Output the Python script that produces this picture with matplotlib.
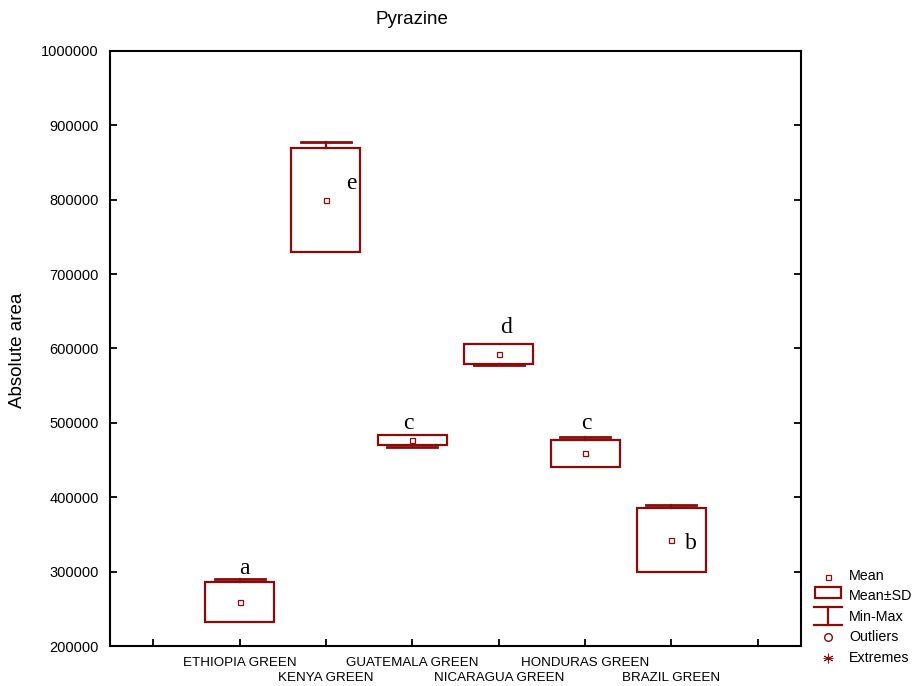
import matplotlib
matplotlib.use("Agg")
import matplotlib.pyplot as plt
from matplotlib.patches import Rectangle

# ---- data ----
groups = ["ETHIOPIA GREEN", "KENYA GREEN", "GUATEMALA GREEN",
          "NICARAGUA GREEN", "HONDURAS GREEN", "BRAZIL GREEN"]
means = [259000, 800000, 477500, 592800, 459000, 342500]
sds = [26900, 69800, 6800, 13400, 18300, 43600]
maxs = [290000, 877700, 482000, 600000, 481000, 389200]
mins = [240000, 740000, 467600, 577500, 445000, 305000]
letters = ["a", "e", "c", "d", "c", "b"]
letter_x = [1.05, 2.29, 2.95, 4.09, 5.02, 6.22]
letter_y = [304700, 821500, 499300, 628200, 499300, 338300]
yticks = [200000, 300000, 400000, 500000, 600000, 700000, 800000, 900000, 1000000]

RED = "#8b0a0a"
W, H = 916, 686

plt.rcParams["font.family"] = ["Liberation Sans", "DejaVu Sans"]

fig = plt.figure(figsize=(W / 100, H / 100), dpi=100)
ax = fig.add_axes([110 / W, 40 / H, 691 / W, 595 / H])

bw = 0.8
cw = 0.58
for i, (m, s, mx, mn) in enumerate(zip(means, sds, maxs, mins)):
    x = i + 1
    ax.add_patch(Rectangle((x - bw / 2, m - s), bw, 2 * s, fill=False,
                           edgecolor=RED, lw=1.6, zorder=3))
    if mx > m + s:
        ax.plot([x, x], [m + s, mx], color=RED, lw=1.6, zorder=3)
        ax.plot([x - cw / 2, x + cw / 2], [mx, mx], color=RED, lw=2.0, zorder=3)
    if mn < m - s:
        ax.plot([x, x], [m - s, mn], color=RED, lw=1.6, zorder=3)
        ax.plot([x - cw / 2, x + cw / 2], [mn, mn], color=RED, lw=2.0, zorder=3)
    ax.plot([x], [m], marker="s", ms=3.6, mfc="white", mec=RED, mew=0.9,
            zorder=4, linestyle="none")

for lx, ly, t in zip(letter_x, letter_y, letters):
    ax.text(lx, ly, t, family=["Liberation Serif", "DejaVu Serif"],
            fontsize=17, ha="center", va="center", color="black")

ax.set_xlim(-0.5, 7.5)
ax.set_ylim(200000, 1000000)
ax.set_yticks(yticks)
ax.set_yticklabels([str(v) for v in yticks])

# two staggered rows of category labels: odd positions as major, even as minor
n = len(groups)
major_pos = [0] + [k + 1 for k in range(0, n, 2)] + [n + 1]
major_lab = [""] + [groups[k] for k in range(0, n, 2)] + [""]
minor_pos = [k + 1 for k in range(1, n, 2)]
minor_lab = [groups[k] for k in range(1, n, 2)]
ax.set_xticks(major_pos)
ax.set_xticklabels(major_lab)
ax.set_xticks(minor_pos, minor=True)
ax.set_xticklabels(minor_lab, minor=True)

ax.tick_params(axis="y", direction="in", length=5, width=1.3, right=True,
               labelsize=10.5, pad=8)
ax.tick_params(axis="x", which="both", direction="in", length=5, width=1.3,
               top=False, labelsize=9.6)
ax.tick_params(axis="x", which="major", pad=8)
ax.tick_params(axis="x", which="minor", pad=19)
for sp in ax.spines.values():
    sp.set_linewidth(1.5)
    sp.set_color("black")

fig.text(412 / W, 1 - 20 / H, "Pyrazine", ha="center", va="center", fontsize=13.5)
fig.text(18 / W, 1 - 350 / H, "Absolute area", ha="center", va="center",
         rotation=90, fontsize=13.5)

# ---- legend (drawn in pixel space) ----
lg = fig.add_axes([0, 0, 1, 1], facecolor="none")
lg.set_xlim(0, W)
lg.set_ylim(H, 0)
lg.axis("off")
sx = 828
lg.plot([sx], [577], marker="s", ms=3.6, mfc="white", mec=RED, mew=0.9)
lg.add_patch(Rectangle((815, 587), 26, 11, fill=False, edgecolor=RED, lw=1.6))
lg.plot([814, 842], [607, 607], color=RED, lw=1.6)
lg.plot([814, 842], [625, 625], color=RED, lw=1.6)
lg.plot([sx, sx], [607, 625], color=RED, lw=1.6)
lg.plot([sx], [637], marker="o", ms=5.5, mfc="white", mec=RED, mew=1.0)
lg.plot([sx], [658], marker=(6, 2, 0), ms=7, color=RED, mew=0.6)
lg.plot([sx], [658], marker="_", ms=7, color=RED, mew=0.6)
for yy, t in zip([576, 596, 617, 637, 658],
                 ["Mean", "Mean±SD", "Min-Max", "Outliers", "Extremes"]):
    lg.text(849, yy, t, ha="left", va="center", fontsize=10.3)

fig.savefig("out.png", dpi=100)
